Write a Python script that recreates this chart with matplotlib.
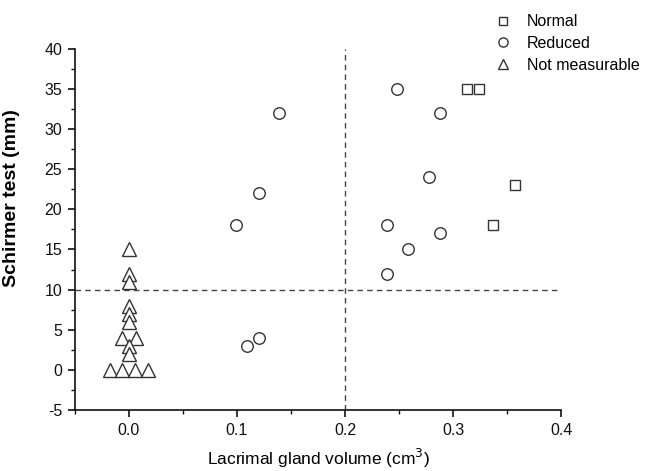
import matplotlib
matplotlib.use('Agg')
import matplotlib.pyplot as plt
from matplotlib.ticker import MultipleLocator

plt.rcParams['font.family'] = ['Liberation Sans', 'DejaVu Sans']
plt.rcParams['axes.unicode_minus'] = False

# Normal lacrimal gland volume
normal_x = [0.313, 0.324, 0.337, 0.357]
normal_y = [35, 35, 18, 23]

# Reduced volume
reduced_x = [0.099, 0.1095, 0.120, 0.120, 0.139,
             0.239, 0.239, 0.248, 0.258, 0.278, 0.288, 0.288]
reduced_y = [18, 3, 4, 22, 32,
             18, 12, 35, 15, 24, 32, 17]

# Not measurable (volume 0, jittered horizontally)
notmeas_x = [0.0, 0.0, 0.0, 0.0, 0.0, 0.0, -0.0065, 0.0065, 0.0, 0.0,
             -0.0175, -0.006, 0.006, 0.018]
notmeas_y = [15, 12, 11, 8, 7, 6, 4, 4, 3, 2,
             0, 0, 0, 0]

cutoff_x = 0.2
cutoff_y = 10

fig = plt.figure(figsize=(6.45, 4.71), dpi=100)
ax = fig.add_axes([0.116, 0.1295, 0.754, 0.767])

edge = '#333333'
kw = dict(linestyle='none', markerfacecolor='white', markeredgecolor=edge,
          markeredgewidth=1.0, clip_on=False)
ax.plot(normal_x, normal_y, marker='s', markersize=7.5, label='Normal', **kw)
ax.plot(reduced_x, reduced_y, marker='o', markersize=8.3, label='Reduced', **kw)
ax.plot(notmeas_x, notmeas_y, marker='^', markersize=9.5, label='Not measurable', **kw)

ax.axhline(cutoff_y, color='#444444', linestyle=(0, (4, 3)), linewidth=1.0, zorder=1)
ax.axvline(cutoff_x, color='#444444', linestyle=(0, (4, 3)), linewidth=1.0, zorder=1)

ax.set_xlim(-0.05, 0.4)
ax.set_ylim(-5, 40)
ax.xaxis.set_minor_locator(MultipleLocator(0.05))
ax.yaxis.set_major_locator(MultipleLocator(5))
ax.yaxis.set_minor_locator(MultipleLocator(2.5))
ax.set_xticks([0.0, 0.1, 0.2, 0.3, 0.4])
ax.set_xticklabels(['0.0', '0.1', '0.2', '0.3', '0.4'])

for side in ['top', 'right']:
    ax.spines[side].set_visible(False)
for side in ['left', 'bottom']:
    ax.spines[side].set_linewidth(1.2)
    ax.spines[side].set_color('#111111')

ax.tick_params(which='major', direction='out', length=5, width=1.2, labelsize=11.5,
               colors='#111111', pad=4)
ax.tick_params(which='minor', direction='out', length=3, width=1.0, colors='#111111')

ax.set_xlabel('Lacrimal gland volume (cm$^3$)', fontsize=12.5, labelpad=7)
ax.set_ylabel('Schirmer test (mm)', fontsize=14, fontweight='bold')
ax.yaxis.set_label_coords(-0.113, 0.587)

ax.legend(loc='upper left', bbox_to_anchor=(0.848, 1.113), frameon=False,
          fontsize=11.5, handletextpad=0.9, labelspacing=0.42, handlelength=1.2,
          borderaxespad=0, markerscale=0.8)

fig.savefig('out.png', dpi=100)
